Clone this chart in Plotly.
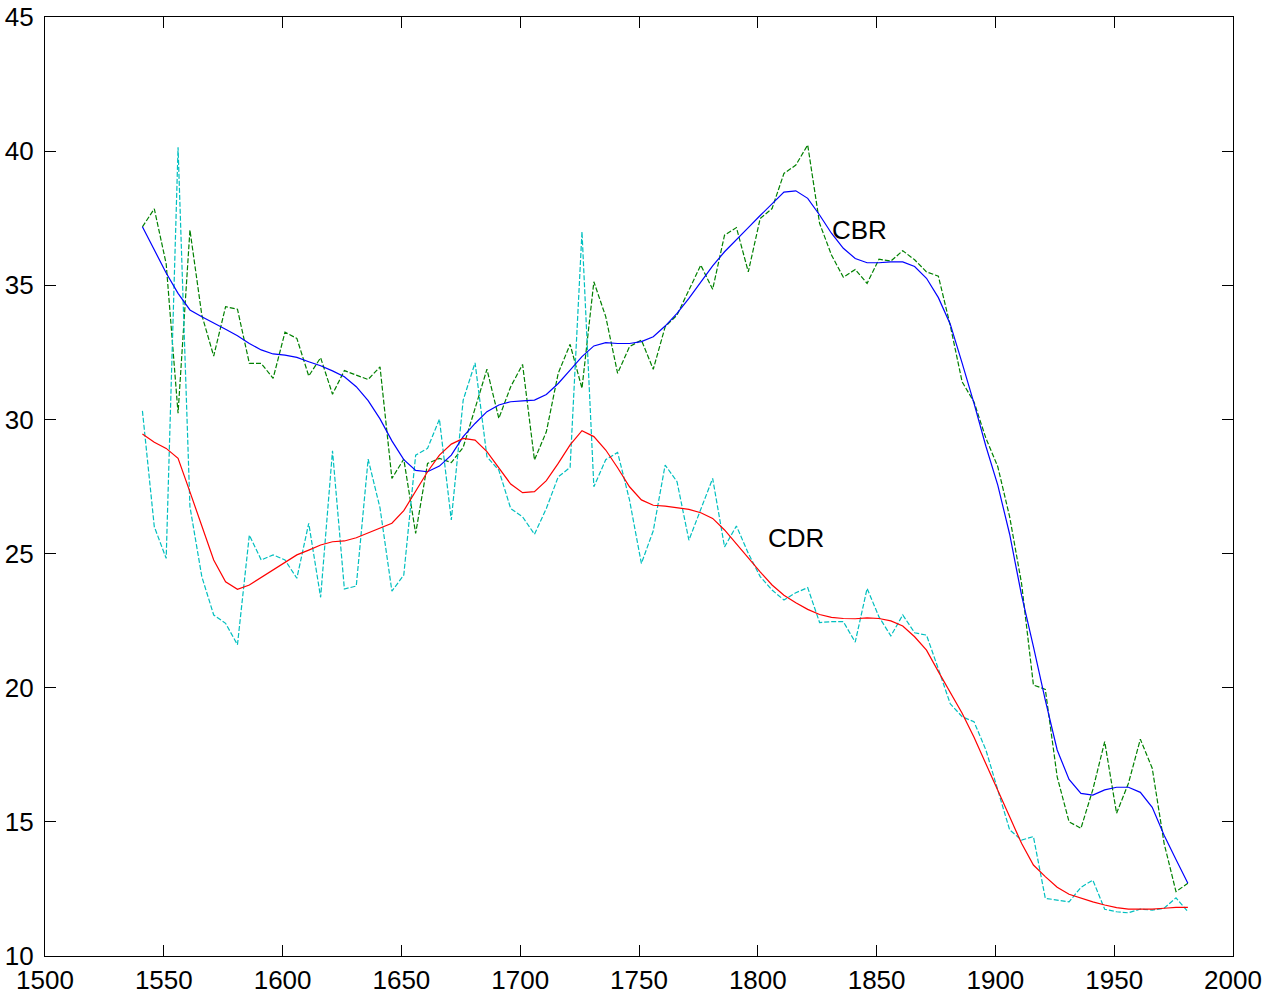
import plotly.graph_objects as go

years = list(range(1541, 1982, 5))

cbr_raw = [37.18, 37.85, 35.8, 30.23, 37.06, 33.89, 32.36, 34.2, 34.11, 32.09,
           32.09, 31.53, 33.25, 33.02, 31.62, 32.30, 30.94, 31.82, 31.65, 31.49,
           31.96, 27.8, 28.52, 25.75, 28.36, 28.55, 28.39, 28.96, 30.41, 31.87,
           30.04, 31.22, 32.05, 28.49, 29.54, 31.72, 32.8, 31.16, 35.13, 33.83,
           31.72, 32.71, 32.96, 31.87, 33.45, 33.89, 34.82, 35.75, 34.85, 36.87,
           37.15, 35.5, 37.49, 37.86, 39.17, 39.48, 40.23, 37.31, 36.13, 35.3,
           35.59, 35.07, 35.97, 35.9, 36.29, 35.95, 35.5, 35.34, 33.5, 31.4,
           30.65, 29.3, 28.24, 26.37, 23.89, 20.1, 19.94, 16.68, 15.0, 14.76,
           16.2, 17.99, 15.32, 16.44, 18.08, 17.0, 14.2, 12.4, 12.71]

cbr_smooth = [37.18, 36.29, 35.46, 34.7, 34.08, 33.83, 33.58, 33.36, 33.12, 32.83,
              32.59, 32.44, 32.40, 32.31, 32.15, 32.0, 31.81, 31.59, 31.22, 30.70,
              30.02, 29.2, 28.5, 28.1, 28.05, 28.26, 28.67, 29.36, 29.85, 30.29,
              30.54, 30.66, 30.69, 30.72, 30.93, 31.34, 31.84, 32.34, 32.74, 32.86,
              32.83, 32.83, 32.9, 33.08, 33.48, 33.95, 34.51, 35.1, 35.72, 36.25,
              36.72, 37.15, 37.6, 38.05, 38.47, 38.52, 38.24, 37.62, 36.94, 36.38,
              36.0, 35.84, 35.84, 35.87, 35.87, 35.7, 35.26, 34.54, 33.55, 32.1,
              30.6, 29.0, 27.55, 25.72, 23.45, 21.53, 19.54, 17.68, 16.58, 16.06,
              16.0, 16.19, 16.29, 16.29, 16.1, 15.54, 14.5, 13.6, 12.71]

cdr_raw = [30.32, 26.0, 24.82, 40.14, 26.75, 24.14, 22.71, 22.4, 21.6, 25.69,
           24.76, 24.95, 24.76, 24.08, 26.13, 23.37, 28.83, 23.68, 23.79, 28.52,
           26.7, 23.6, 24.2, 28.67, 28.92, 30.01, 26.25, 30.72, 32.11, 28.61,
           28.11, 26.68, 26.37, 25.72, 26.68, 27.86, 28.21, 37.0, 27.49, 28.5,
           28.77, 27.0, 24.63, 25.85, 28.3, 27.68, 25.5, 26.62, 27.8, 25.25,
           26.03, 25.01, 24.14, 23.64, 23.27, 23.54, 23.73, 22.43, 22.46, 22.46,
           21.7, 23.7, 22.64, 21.93, 22.71, 22.05, 21.96, 20.7, 19.4, 18.92,
           18.73, 17.68, 16.19, 14.7, 14.32, 14.45, 12.15, 12.09, 12.02, 12.56,
           12.83, 11.74, 11.65, 11.61, 11.75, 11.71, 11.78, 12.17, 11.65]

cdr_smooth = [29.46, 29.15, 28.92, 28.55, 27.3, 26.0, 24.76, 23.95, 23.67, 23.83,
              24.11, 24.41, 24.7, 24.95, 25.13, 25.32, 25.44, 25.47, 25.59, 25.78,
              25.94, 26.13, 26.6, 27.31, 28.05, 28.67, 29.08, 29.29, 29.23, 28.8,
              28.18, 27.59, 27.27, 27.31, 27.72, 28.36, 29.05, 29.58, 29.36, 28.86,
              28.2, 27.49, 27.0, 26.8, 26.77, 26.72, 26.65, 26.52, 26.31, 25.88,
              25.36, 24.82, 24.32, 23.83, 23.45, 23.17, 22.92, 22.73, 22.62, 22.58,
              22.57, 22.6, 22.58, 22.49, 22.3, 21.9, 21.4, 20.6, 19.85, 19.05,
              18.15, 17.18, 16.19, 15.19, 14.2, 13.39, 12.96, 12.56, 12.3, 12.15,
              12.02, 11.9, 11.8, 11.75, 11.74, 11.75, 11.78, 11.81, 11.81]

x_ticks = [1500, 1550, 1600, 1650, 1700, 1750, 1800, 1850, 1900, 1950, 2000]
y_ticks = [10, 15, 20, 25, 30, 35, 40, 45]

labels = [("CBR", 1843, 37.06), ("CDR", 1816, 25.57)]

FONT = "Liberation Sans, Arial, sans-serif"
DASH = "5px,2px"

fig = go.Figure()
fig.add_trace(go.Scatter(x=years, y=cbr_raw, mode="lines",
                         line=dict(color="#008000", width=1.2, dash=DASH)))
fig.add_trace(go.Scatter(x=years, y=cdr_raw, mode="lines",
                         line=dict(color="#00BFBF", width=1.2, dash=DASH)))
fig.add_trace(go.Scatter(x=years, y=cbr_smooth, mode="lines",
                         line=dict(color="#0000FF", width=1.2)))
fig.add_trace(go.Scatter(x=years, y=cdr_smooth, mode="lines",
                         line=dict(color="#FF0000", width=1.2)))

for text, lx, ly in labels:
    fig.add_annotation(x=lx, y=ly, text=text, showarrow=False,
                       font=dict(family=FONT, size=26, color="black"),
                       xanchor="center", yanchor="middle")

axis_common = dict(showline=True, linecolor="black", linewidth=1.3, mirror="ticks",
                   ticks="inside", ticklen=11, tickwidth=1, tickcolor="black",
                   showgrid=False, zeroline=False, automargin=False,
                   ticklabeloverflow="allow",
                   tickfont=dict(family=FONT, size=26, color="black"))

fig.update_layout(
    width=1281, height=1003,
    margin=dict(l=45, r=48, t=17, b=47, pad=0),
    paper_bgcolor="white", plot_bgcolor="white",
    showlegend=False,
    xaxis=dict(range=[1500, 2000], tickmode="array", tickvals=x_ticks,
               ticktext=[str(v) for v in x_ticks], ticklabelstandoff=1, **axis_common),
    yaxis=dict(range=[10, 45], tickmode="array", tickvals=y_ticks,
               ticktext=[str(v) for v in y_ticks], ticklabelstandoff=5, **axis_common),
)

fig.write_html("out.html", config={"displayModeBar": False},
               post_script="document.body.style.margin='0';document.body.style.overflow='hidden';")
